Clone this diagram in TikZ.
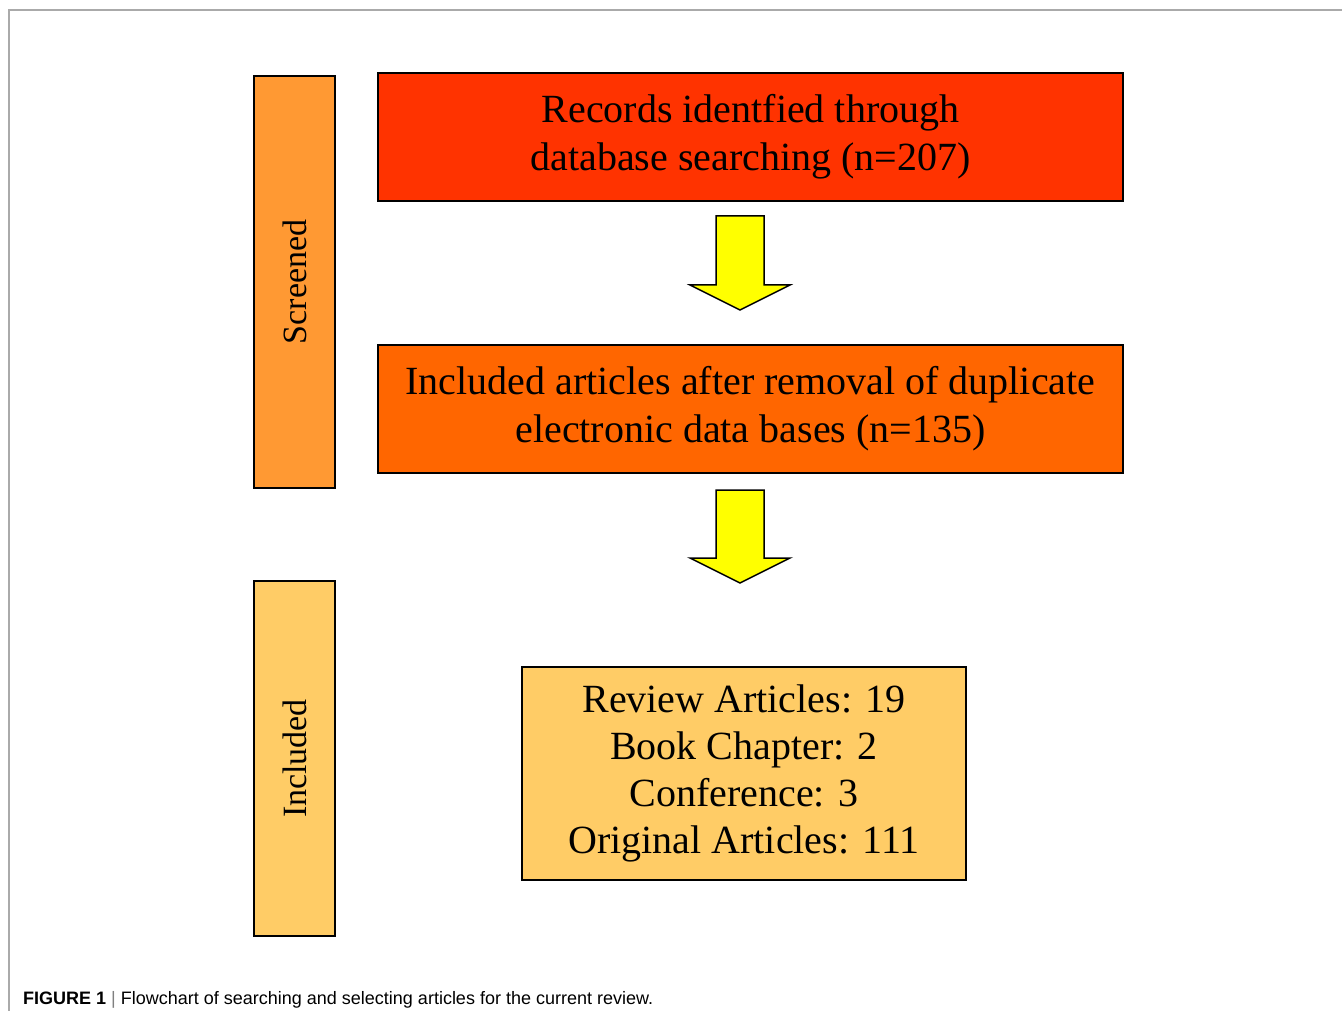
\documentclass[tikz,border=0pt]{standalone}
\usepackage{fontspec}
\setmainfont{Liberation Serif}
\setsansfont{Liberation Sans}
\usepackage{xcolor}
\definecolor{screened-orange}{HTML}{FF9933}
\definecolor{included-yellow}{HTML}{FFCC66}
\definecolor{records-red}{HTML}{FF3300}
\definecolor{removal-orange}{HTML}{FF6600}
\definecolor{arrow-yellow}{HTML}{FFFF00}
\definecolor{frame-grey}{HTML}{AAAAAA}
\tikzset{
    stage-bar/.style = {draw=black, line width=2pt, rectangle, minimum width=81pt, inner sep=0pt},
    stage-title/.style = {rotate=90, font=\fontsize{34}{40}\selectfont},
    flow-box/.style = {draw=black, line width=2pt, rectangle, align=center, inner sep=0pt, font=\fontsize{40}{48}\selectfont},
    block-arrow/.style = {draw=black, line width=1.5pt, fill=arrow-yellow, line join=miter},
}

\begin{document}
\begin{tikzpicture}[x=1pt, y=-1pt]
\useasboundingbox (0,0) rectangle (1342,1011);
\fill[white] (0,0) rectangle (1342,1011);
\draw[frame-grey, line width=1.5pt] (9,1011) -- (9,10) -- (1342,10);
% stage bars on the left
\node[stage-bar, fill=screened-orange, minimum height=412pt] (screened) at (294.5,282) {};
\node[stage-title] at (screened.center) {Screened};
\node[stage-bar, fill=included-yellow, minimum height=355pt] (included) at (294.5,758.5) {};
\node[stage-title] at (included.center) {Included};
% flow boxes
\node[flow-box, fill=records-red, minimum width=745pt, minimum height=128pt] (records) at (750.5,137) {Records identfied through\\database searching (n=207)};
\node[flow-box, fill=removal-orange, minimum width=745pt, minimum height=128pt] (removal) at (750.5,409) {Included articles after removal of duplicate\\electronic data bases (n=135)};
\node[flow-box, fill=included-yellow, minimum width=444pt, minimum height=213pt, font=\fontsize{40}{47}\selectfont] (articles) at (744,773.5) {Review Articles: 19\\Book Chapter: 2\\Conference: 3\\Original Articles: 111};
% yellow block arrows
\coordinate (arrow1) at (740,216);
\coordinate (arrow2) at (740,490);
\draw[block-arrow] (arrow1) ++(-24,0) -- ++(48,0) -- ++(0,69) -- ++(26,0) -- ++(-50,25) -- ++(-50,-25) -- ++(26,0) -- cycle;
\draw[block-arrow] (arrow2) ++(-24,0) -- ++(48,0) -- ++(0,68) -- ++(26,0) -- ++(-50,25) -- ++(-50,-25) -- ++(26,0) -- cycle;
% caption
\node[anchor=base west, inner sep=0pt, font=\sffamily\fontsize{18}{21}\selectfont] (caption) at (23,1004) {\textbf{FIGURE 1} \textcolor{gray}{|} Flowchart of searching and selecting articles for the current review.};
\end{tikzpicture}
\end{document}
